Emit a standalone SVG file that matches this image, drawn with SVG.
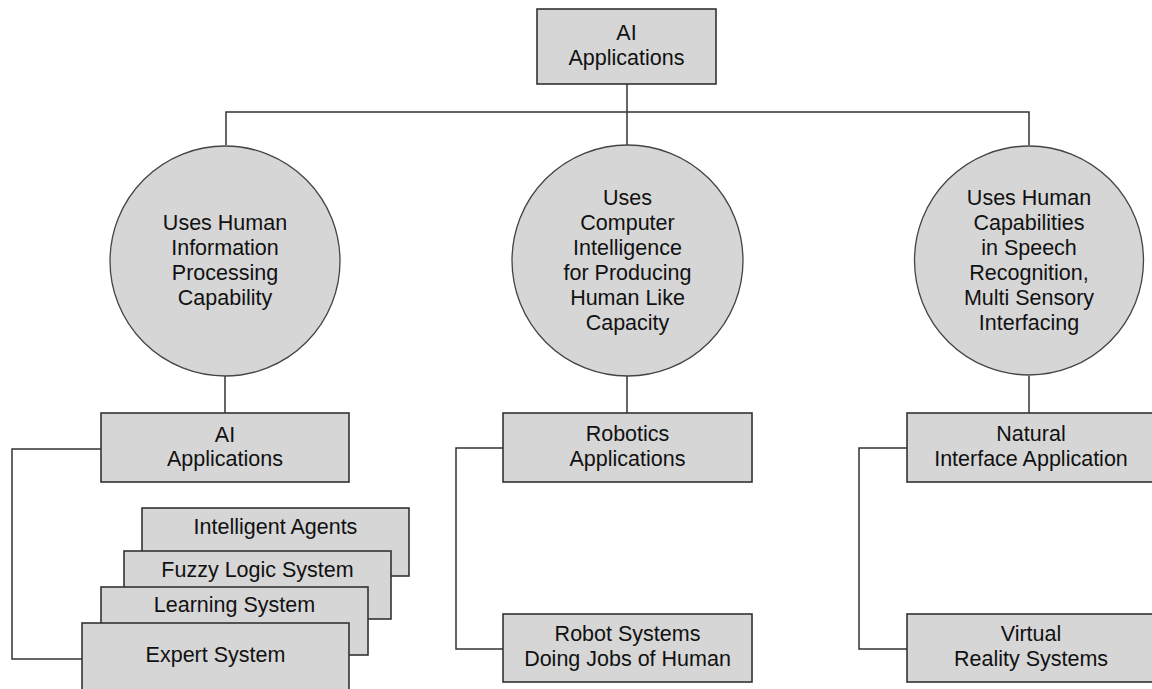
<svg xmlns="http://www.w3.org/2000/svg" width="1152" height="689" viewBox="0 0 1152 689">
  <style>
    .box { fill: #d6d6d6; stroke: #333; stroke-width: 1.6; }
    .circ { fill: #d6d6d6; stroke: #444; stroke-width: 1.3; }
    .link { fill: none; stroke: #333; stroke-width: 1.5; }
    text { font-family: "Liberation Sans", Arial, sans-serif; font-size: 21.5px; fill: #111; text-anchor: middle; }
  </style>
  <rect width="1152" height="689" fill="#ffffff"/>

  <g id="connectors">
    <path class="link" d="M627 84 V145"/>
    <path class="link" d="M226 145 V112 H1029 V145"/>
    <path class="link" d="M225 376 V413"/>
    <path class="link" d="M627 376 V413"/>
    <path class="link" d="M1029 376 V413"/>
    <path class="link" d="M101 449 H12 V659 H82"/>
    <path class="link" d="M503 448 H456 V649 H503"/>
    <path class="link" d="M907 448 H859 V649 H907"/>
  </g>

  <g id="root">
    <rect class="box" x="537" y="9" width="179" height="75"/>
    <text x="626.5" y="40">AI</text>
    <text x="626.5" y="65">Applications</text>
  </g>

  <g id="circle-info">
    <circle class="circ" cx="225" cy="261" r="115"/>
    <text x="225" y="230">Uses Human</text>
    <text x="225" y="255">Information</text>
    <text x="225" y="280">Processing</text>
    <text x="225" y="305">Capability</text>
  </g>

  <g id="circle-computer">
    <circle class="circ" cx="627.5" cy="260.5" r="115.5"/>
    <text x="627.5" y="205">Uses</text>
    <text x="627.5" y="230">Computer</text>
    <text x="627.5" y="255">Intelligence</text>
    <text x="627.5" y="280">for Producing</text>
    <text x="627.5" y="305">Human Like</text>
    <text x="627.5" y="330">Capacity</text>
  </g>

  <g id="circle-speech">
    <circle class="circ" cx="1029" cy="260.5" r="114.5"/>
    <text x="1029" y="205">Uses Human</text>
    <text x="1029" y="230">Capabilities</text>
    <text x="1029" y="255">in Speech</text>
    <text x="1029" y="280">Recognition,</text>
    <text x="1029" y="305">Multi Sensory</text>
    <text x="1029" y="330">Interfacing</text>
  </g>

  <g id="ai-apps">
    <rect class="box" x="101" y="413" width="248" height="69"/>
    <text x="225" y="442">AI</text>
    <text x="225" y="466">Applications</text>
  </g>

  <g id="intelligent-agents">
    <rect class="box" x="142" y="508" width="267" height="68"/>
    <text x="275.5" y="534">Intelligent Agents</text>
  </g>

  <g id="fuzzy-logic">
    <rect class="box" x="124" y="551" width="267" height="68"/>
    <text x="257.5" y="577">Fuzzy Logic System</text>
  </g>

  <g id="learning-system">
    <rect class="box" x="101" y="587" width="267" height="68"/>
    <text x="234.5" y="612">Learning System</text>
  </g>

  <g id="expert-system">
    <rect class="box" x="82" y="623" width="267" height="70"/>
    <text x="215.5" y="662">Expert System</text>
  </g>

  <g id="robotics-apps">
    <rect class="box" x="503" y="413" width="249" height="69"/>
    <text x="627.5" y="441">Robotics</text>
    <text x="627.5" y="466">Applications</text>
  </g>

  <g id="robot-systems">
    <rect class="box" x="503" y="614" width="249" height="68"/>
    <text x="627.5" y="641">Robot Systems</text>
    <text x="627.5" y="666">Doing Jobs of Human</text>
  </g>

  <g id="natural-interface">
    <rect class="box" x="907" y="413" width="249" height="69"/>
    <text x="1031" y="441">Natural</text>
    <text x="1031" y="466">Interface Application</text>
  </g>

  <g id="virtual-reality">
    <rect class="box" x="907" y="614" width="249" height="68"/>
    <text x="1031" y="641">Virtual</text>
    <text x="1031" y="666">Reality Systems</text>
  </g>
</svg>
